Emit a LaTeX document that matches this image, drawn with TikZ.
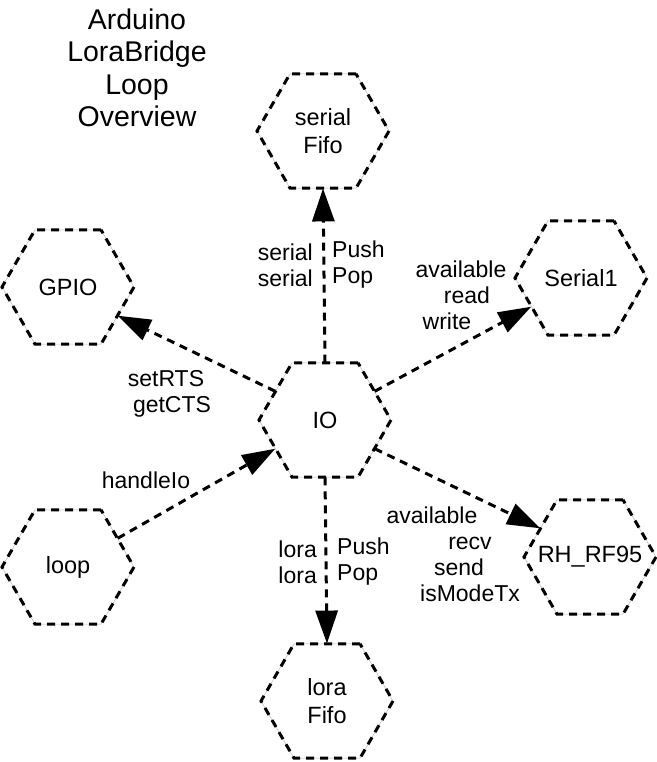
\documentclass[tikz,border=0pt]{standalone}
\usepackage{fontspec}
\setmainfont{Liberation Sans}
\usetikzlibrary{shapes.geometric,arrows.meta}
\newcommand{\hexnode}[3]{
    \node[hexa] (#1) at (#2) {#3};
}

\begin{document}
\begin{tikzpicture}[x=1pt,y=-1pt,
        hexa/.style={regular polygon, regular polygon sides=6, minimum size=132pt,
            inner sep=-20pt, align=center, draw=gray!55, line width=0.5pt,
            font=\fontsize{23.5}{28}\selectfont,
            postaction={draw=black, line width=3pt, dash pattern=on 8pt off 6pt}},
        flow/.style={draw, line width=3pt, dash pattern=on 8pt off 6pt,
            -{Triangle[length=33pt,width=22pt]}},
        lbl/.style={align=center, inner sep=0pt, font=\fontsize{23}{26}\selectfont}]
    \useasboundingbox (0,0) rectangle (656,762);
    \node[align=center, font=\fontsize{28.5}{32.5}\selectfont] (title) at (137,68)
        {Arduino\\LoraBridge\\Loop\\Overview};
    % the hexagons
    \hexnode{io}{325,420}{IO}
    \hexnode{sfifo}{323,131}{serial\\Fifo}
    \hexnode{lfifo}{327,701}{lora\\Fifo}
    \hexnode{gpio}{68,287}{GPIO}
    \hexnode{ser}{581,278}{Serial1}
    \hexnode{loop}{68,567}{loop}
    \hexnode{rf}{590,557}{RH\_RF95}
    % the calls, from edge middle to edge middle
    \draw[flow] (io.90) -- (sfifo.270);
    \draw[flow] (io.150) -- (gpio.330);
    \draw[flow] (io.30) -- (ser.210);
    \draw[flow] (loop.30) -- (io.210);
    \draw[flow] (io.330) -- (rf.150);
    \draw[flow] (io.270) -- (lfifo.90);
    % the labels
    \node[lbl, anchor=east] (sfifoL) at (313,265) {serial\\serial};
    \node[lbl, anchor=west, align=left] (sfifoR) at (332,265) {Push\\Pop};
    \node[lbl, anchor=east] (lfifoL) at (317,562) {lora\\lora};
    \node[lbl, anchor=west, align=left] (lfifoR) at (337,562) {Push\\Pop};
    \node[lbl] (gpioL) at (169,394) {setRTS\hspace*{6pt}\\\hspace*{6pt}getCTS};
    \node[lbl] (serL) at (461,295)
        {available\\\hspace*{12pt}read\\write\hspace*{28pt}};
    \node[lbl] (loopL) at (146,480) {handleIo};
    \node[lbl] (rfL) at (455,554)
        {available\hspace*{46pt}\\\hspace*{30pt}recv\\\hspace*{8pt}send\\\hspace*{30pt}isModeTx};
\end{tikzpicture}
\end{document}
